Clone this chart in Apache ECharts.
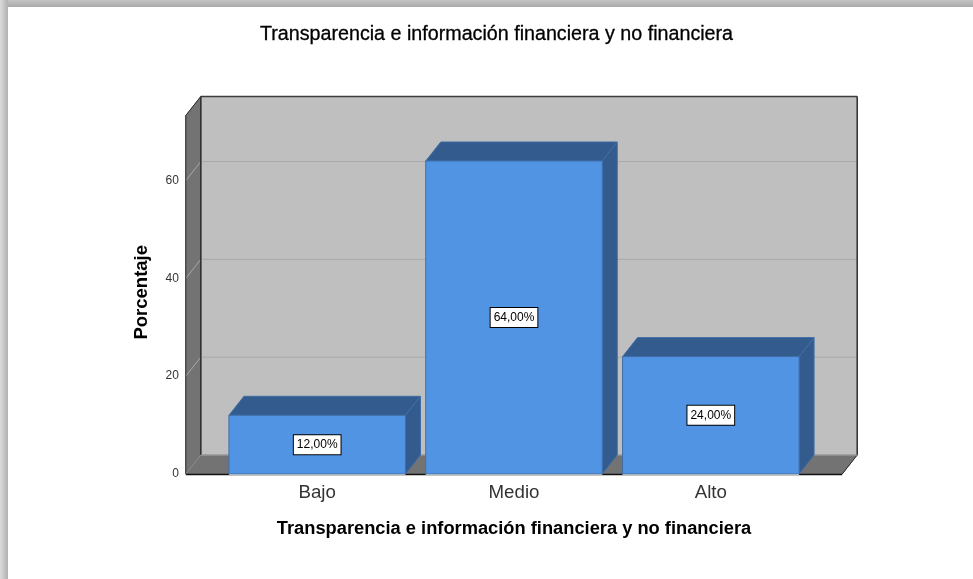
<!DOCTYPE html>
<html><head><meta charset="utf-8">
<style>html,body{margin:0;padding:0;background:#fff}#c{width:973px;height:579px}</style>
<script src="https://cdn.jsdelivr.net/npm/echarts@6/dist/echarts.min.js"></script>
</head><body><div id="c"></div>
<script>
const categories = ['Bajo', 'Medio', 'Alto'];
const percentValues = [12, 64, 24];
const dataLabels = ['12,00%', '64,00%', '24,00%'];
const yTicks = [0, 20, 40, 60];
const axisMax = 73.3;
const titleText = 'Transparencia e información financiera y no financiera';
const xName = 'Transparencia e información financiera y no financiera';
const yName = 'Porcentaje';

const DX = 15, DY = -19, OVER = 33, BAR = 0.897;
const font = '"Liberation Sans", Arial, sans-serif';

function poly(points, fill, stroke, w) {
  return { type: 'polygon', shape: { points }, style: { fill, stroke: stroke || fill, lineWidth: w || 1 } };
}
function seg(x1, y1, x2, y2, stroke, w) {
  return { type: 'line', shape: { x1, y1, x2, y2 }, style: { stroke, lineWidth: w || 1 } };
}
function wallsItem(params, api) {
  if (params.dataIndex !== 0) return null;
  const cs = params.coordSys;
  const L = cs.x - OVER, R = cs.x + cs.width + OVER;
  const y0 = api.coord([0, 0])[1], yF = api.coord([0, axisMax])[1], yT = yF + DY;
  const ch = [];
  ch.push(poly([[L + DX, yT], [R + DX, yT], [R + DX, y0 + DY], [L + DX, y0 + DY]], '#bfbfbf', '#bfbfbf'));
  ch.push(poly([[L, yF], [L + DX, yT], [L + DX, y0 + DY], [L, y0]], '#737373', '#737373'));
  ch.push(poly([[L, y0], [L + DX, y0 + DY], [R + DX, y0 + DY], [R, y0]], '#737373', '#737373'));
  yTicks.slice(1).forEach(t => {
    const y = api.coord([0, t])[1];
    ch.push(seg(L + DX, y + DY, R + DX, y + DY, '#a9a9a9'));
    ch.push(seg(L, y, L + DX, y + DY, '#a9a9a9'));
  });
  ch.push(seg(L + DX, yT, R + DX, yT, '#3c3c3c', 1.5));
  ch.push(seg(L + DX, yT, L + DX, y0 + DY, '#2e2e2e', 1.5));
  ch.push(seg(R + DX, yT, R + DX, y0 + DY, '#2e2e2e', 1.5));
  ch.push(seg(L, yF, L + DX, yT, '#2e2e2e', 1));
  ch.push(seg(L, yF, L, y0, '#2e2e2e', 1));
  ch.push(seg(R, y0, R + DX, y0 + DY, '#2e2e2e', 1));
  ch.push(seg(L, y0, L + DX, y0 + DY, '#8c8c8c', 1));
  ch.push(seg(L + DX, y0 + DY, R + DX, y0 + DY, '#a8a8a8', 1));
  ch.push(seg(L, y0 + 0.5, R, y0 + 0.5, '#111111', 1.5));
  return { type: 'group', children: ch };
}
function barItem(params, api) {
  const c = api.coord([api.value(0), api.value(1)]);
  const base = api.coord([api.value(0), 0]);
  const w = api.size([1, 0])[0] * BAR;
  const l = c[0] - w / 2, r = c[0] + w / 2, t = c[1], b = base[1];
  const edge = '#3f6ea6';
  return { type: 'group', children: [
    poly([[l, t], [l + DX, t + DY], [r + DX, t + DY], [r, t]], '#335b8d', edge),
    poly([[r, t], [r + DX, t + DY], [r + DX, b + DY], [r, b]], '#335b8d', edge),
    poly([[l, t], [r, t], [r, b], [l, b]], '#5294e4', edge),
    { type: 'line', shape: { x1: l, y1: b + 0.5, x2: r, y2: b + 0.5 }, style: { stroke: '#a8b4c2', lineWidth: 1 } },
    { type: 'text', x: c[0], y: (t + b) / 2, style: {
        text: dataLabels[params.dataIndex], font: '12px ' + font, fill: '#000',
        align: 'center', verticalAlign: 'middle', backgroundColor: '#fff',
        borderColor: '#000', borderWidth: 1, padding: [4, 3, 3, 3] } }
  ]};
}

const chart = echarts.init(document.getElementById('c'), null, { renderer: 'canvas' });
chart.setOption({
  animation: false,
  backgroundColor: '#fff',
  title: { text: titleText, left: 491.5, top: 20, textAlign: 'center',
    textStyle: { fontFamily: font, fontSize: 19.7, fontWeight: 'normal', color: '#000', textBorderColor: '#000', textBorderWidth: 0.3 } },
  grid: { left: 218.8, width: 590.4, top: 115.5, height: 358.5 },
  xAxis: { type: 'category', data: categories, name: xName, nameLocation: 'middle', nameGap: 46,
    nameTextStyle: { fontFamily: font, fontSize: 18.3, fontWeight: 'bold', color: '#000' },
    axisLine: { show: false }, axisTick: { show: false },
    axisLabel: { fontFamily: font, fontSize: 18.7, color: '#333', margin: 9 } },
  yAxis: { type: 'value', min: 0, max: axisMax, interval: 20, name: yName, nameLocation: 'middle', nameGap: 67,
    nameTextStyle: { fontFamily: font, fontSize: 18.5, fontWeight: 'bold', color: '#000', padding: [0, 0, 0, 5] },
    axisLine: { show: false }, axisTick: { show: false }, splitLine: { show: false },
    axisLabel: { fontFamily: font, fontSize: 12, color: '#333', margin: 40, showMaxLabel: false,
      formatter: v => yTicks.includes(v) ? String(v) : '' } },
  graphic: [
    { type: 'rect', z: 100, silent: true, shape: { x: 0, y: 0, width: 973, height: 7 },
      style: { fill: { type: 'linear', x: 0, y: 0, x2: 0, y2: 1, colorStops: [{ offset: 0, color: '#c4c4c4' }, { offset: 1, color: '#a9a9a9' }] } } },
    { type: 'rect', z: 100, silent: true, shape: { x: 0, y: 0, width: 8, height: 579 },
      style: { fill: { type: 'linear', x: 0, y: 0, x2: 1, y2: 0, colorStops: [{ offset: 0, color: '#dcdcdc' }, { offset: 1, color: '#b0b0b0' }] } } }
  ],
  series: [
    { type: 'custom', renderItem: wallsItem, data: categories.map((c, i) => [i, 0]), clip: false, silent: true, z: 1 },
    { type: 'custom', renderItem: barItem, data: percentValues.map((v, i) => [i, v]), clip: false, silent: true, z: 2,
      encode: { x: 0, y: 1 } }
  ]
});
</script></body></html>
